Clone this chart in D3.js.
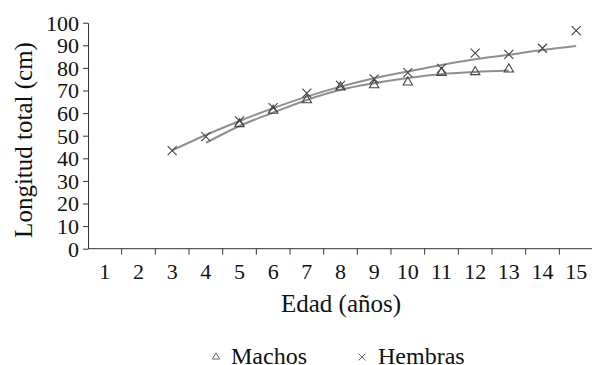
<!DOCTYPE html>
<html>
<head>
<meta charset="utf-8">
<script src="https://cdn.jsdelivr.net/npm/d3@7"></script>
<style>
  html, body { margin: 0; padding: 0; background: #fff; }
</style>
</head>
<body>
<div id="chart"></div>
<script>
// Ages (categories on the x axis)
const ages = d3.range(1, 16);
const yTicks = d3.range(0, 101, 10);

// Observed mean lengths (cm)
const machosAge = [5, 6, 7, 8, 9, 10, 11, 12, 13];
const machosLen = [55.2, 61.1, 65.8, 71.4, 72.4, 73.6, 77.9, 78.2, 79.4];
const hembrasAge = [3, 4, 5, 6, 7, 8, 9, 10, 11, 12, 13, 14, 15];
const hembrasLen = [43.4, 49.6, 56.6, 62.4, 68.8, 72.3, 75.1, 77.9, 79.8, 86.5, 86.0, 88.7, 96.5];

// Fitted growth curves
const machosFitAge = [4, 5, 6, 7, 8, 9, 10, 11, 12, 13];
const machosFitLen = [46.8, 54.3, 60.2, 65.8, 70.3, 73.2, 75.5, 77.3, 78.2, 78.8];
const hembrasFitAge = [3, 4, 5, 6, 7, 8, 9, 10, 11, 12, 13, 14, 15];
const hembrasFitLen = [43.5, 50.3, 56.5, 62.2, 67.3, 71.7, 75.4, 78.4, 81.3, 83.8, 85.8, 87.9, 89.7];

const W = 592, H = 365;
const plotLeft = 88, plotRight = 593, plotTop = 22.7, plotBottom = 248.7;
const font = '"Liberation Serif", "Times New Roman", serif';
const tickFs = 22;
const titleFs = 25;
const axisColor = '#333';
const textColor = '#111';
const lineColor = '#8f8f8f';
const markColor = '#444';

const svg = d3.select('#chart').append('svg')
  .attr('width', W)
  .attr('height', H)
  .style('display', 'block')
  .style('font-family', font);

const x = d3.scaleBand()
  .domain(ages)
  .range([plotLeft, plotRight])
  .paddingInner(0)
  .paddingOuter(0);

const y = d3.scaleLinear()
  .domain([0, 100])
  .range([plotBottom, plotTop]);

const cx = a => x(a) + x.bandwidth() / 2;

// Y axis
const yAxis = svg.append('g')
  .attr('transform', `translate(${plotLeft},0)`)
  .call(d3.axisLeft(y).tickValues(yTicks).tickSize(5).tickSizeOuter(0).tickPadding(4));
yAxis.attr('font-family', null);
yAxis.select('.domain').attr('stroke', axisColor);
yAxis.selectAll('.tick line').attr('stroke', axisColor);
yAxis.selectAll('.tick text')
  .style('font-family', font)
  .attr('font-size', tickFs)
  .attr('fill', textColor)
  .attr('dy', '0.34em');

// X axis: line with ticks at category boundaries, labels at centres
const xg = svg.append('g').attr('class', 'x-axis');
xg.append('line')
  .attr('x1', plotLeft).attr('x2', plotRight)
  .attr('y1', plotBottom).attr('y2', plotBottom)
  .attr('stroke', axisColor);
xg.selectAll('line.tick')
  .data(ages.slice(1))
  .join('line')
  .attr('class', 'tick')
  .attr('x1', d => x(d)).attr('x2', d => x(d))
  .attr('y1', plotBottom).attr('y2', plotBottom + 6)
  .attr('stroke', axisColor);
xg.selectAll('text')
  .data(ages)
  .join('text')
  .attr('x', d => cx(d))
  .attr('y', 279)
  .attr('text-anchor', 'middle')
  .style('font-family', font)
  .attr('font-size', tickFs)
  .attr('fill', textColor)
  .text(d => d);

// Axis titles
svg.append('text')
  .attr('x', 341)
  .attr('y', 312)
  .attr('text-anchor', 'middle')
  .style('font-family', font)
  .attr('font-size', titleFs)
  .attr('fill', textColor)
  .text('Edad (años)');

svg.append('text')
  .attr('transform', `translate(32,140) rotate(-90)`)
  .attr('text-anchor', 'middle')
  .style('font-family', font)
  .attr('font-size', titleFs)
  .attr('fill', textColor)
  .text('Longitud total (cm)');

// Fitted curves
const line = d3.line()
  .x(d => cx(d[0]))
  .y(d => y(d[1]))
  .curve(d3.curveMonotoneX);

svg.append('path')
  .datum(machosFitAge.map((a, i) => [a, machosFitLen[i]]))
  .attr('d', line)
  .attr('fill', 'none')
  .attr('stroke', lineColor)
  .attr('stroke-width', 2);

svg.append('path')
  .datum(hembrasFitAge.map((a, i) => [a, hembrasFitLen[i]]))
  .attr('d', line)
  .attr('fill', 'none')
  .attr('stroke', lineColor)
  .attr('stroke-width', 2);

// Markers
const tri = d3.symbol().type(d3.symbolTriangle).size(38);
const cross = s => `M${-s},${-s}L${s},${s}M${-s},${s}L${s},${-s}`;

svg.append('g')
  .selectAll('path')
  .data(machosAge.map((a, i) => [a, machosLen[i]]))
  .join('path')
  .attr('transform', d => `translate(${cx(d[0])},${y(d[1])})`)
  .attr('d', tri)
  .attr('fill', 'none')
  .attr('stroke', markColor)
  .attr('stroke-width', 1.1);

svg.append('g')
  .selectAll('path')
  .data(hembrasAge.map((a, i) => [a, hembrasLen[i]]))
  .join('path')
  .attr('transform', d => `translate(${cx(d[0])},${y(d[1])})`)
  .attr('d', cross(4.5))
  .attr('fill', 'none')
  .attr('stroke', markColor)
  .attr('stroke-width', 1.1);

// Legend
const legend = svg.append('g');
legend.append('path')
  .attr('transform', 'translate(216,357)')
  .attr('d', d3.symbol().type(d3.symbolTriangle).size(22))
  .attr('fill', 'none')
  .attr('stroke', '#666')
  .attr('stroke-width', 1);
legend.append('text')
  .attr('x', 231).attr('y', 364)
  .style('font-family', font)
  .attr('font-size', 24)
  .attr('fill', textColor)
  .text('Machos');
legend.append('path')
  .attr('transform', 'translate(362,357)')
  .attr('d', cross(3.5))
  .attr('fill', 'none')
  .attr('stroke', '#666')
  .attr('stroke-width', 1);
legend.append('text')
  .attr('x', 378).attr('y', 364)
  .style('font-family', font)
  .attr('font-size', 24)
  .attr('fill', textColor)
  .text('Hembras');
</script>
</body>
</html>
